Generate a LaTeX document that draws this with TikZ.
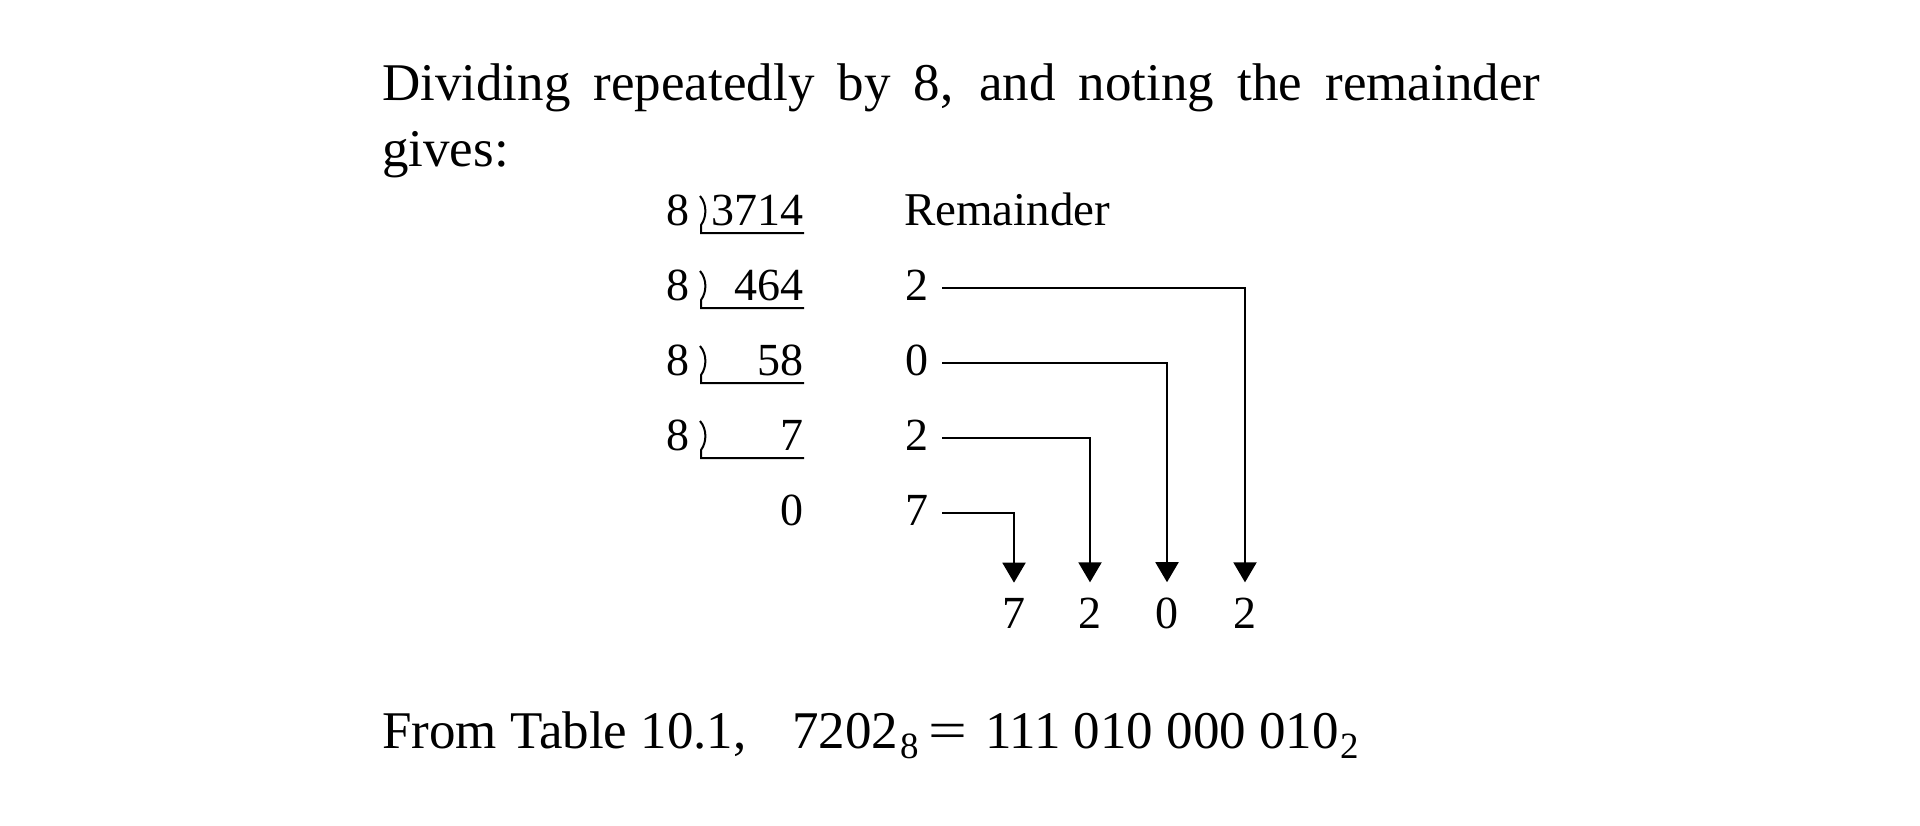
\documentclass[tikz,border=0pt]{standalone}
\usepackage{fontspec}
\setmainfont{Liberation Serif}
\usetikzlibrary{arrows.meta}
\begin{document}
\begin{tikzpicture}[x=1pt,y=-1pt,
  big/.style={inner sep=0pt,anchor=base west,font=\fontsize{53}{60}\selectfont},
  subs/.style={inner sep=0pt,anchor=base west,font=\fontsize{37}{42}\selectfont},
  tabl/.style={inner sep=0pt,anchor=base west,font=\fontsize{46}{52}\selectfont},
  tabr/.style={inner sep=0pt,anchor=base east,font=\fontsize{46}{52}\selectfont},
  tabc/.style={inner sep=0pt,anchor=base,font=\fontsize{46}{52}\selectfont},
  conn/.style={line width=2pt,-{Triangle[width=23pt,length=20pt]}},
  divline/.style={line width=2pt}]
\useasboundingbox[fill=white] (0,0) rectangle (1920,825);
% heading
\node[big] (l1) at (382,100) {\makebox[1158pt][s]{Dividing repeatedly by 8, and noting the remainder}};
\node[big] (l2) at (382,166) {gives:};
% divisors
\node[tabl] (d1) at (666,225) {8};
\node[tabl] (d2) at (666,300) {8};
\node[tabl] (d3) at (666,375) {8};
\node[tabl] (d4) at (666,450) {8};
% dividends
\node[tabr] (q1) at (804,225) {3714};
\node[tabr] (q2) at (804,300) {464};
\node[tabr] (q3) at (804,375) {58};
\node[tabr] (q4) at (804,450) {7};
\node[tabr] (q5) at (804,525) {0};
% division brackets
\foreach \Y in {225,300,375,450}{
  \draw[divline] (700,\Y-29) .. controls (707,\Y-21) and (707,\Y-8) .. (701,\Y)
     -- (701,\Y+8) -- (804,\Y+8);
}
% remainders
\node[tabl,font=\fontsize{47}{52}\selectfont] (rh) at (904,225) {Remainder};
\node[tabl] (r1) at (905,300) {2};
\node[tabl] (r2) at (905,375) {0};
\node[tabl] (r3) at (905,450) {2};
\node[tabl] (r4) at (905,525) {7};
% result digits
\node[tabc] (b1) at (1014,628) {7};
\node[tabc] (b2) at (1090,628) {2};
\node[tabc] (b3) at (1167,628) {0};
\node[tabc] (b4) at (1245,628) {2};
% connectors
\draw[conn] ([shift={(14pt,12pt)}]r1.base east) -| ([yshift=15pt]b4.north);
\draw[conn] ([shift={(14pt,12pt)}]r2.base east) -| ([yshift=15pt]b3.north);
\draw[conn] ([shift={(14pt,12pt)}]r3.base east) -| ([yshift=15pt]b2.north);
\draw[conn] ([shift={(14pt,12pt)}]r4.base east) -| ([yshift=15pt]b1.north);
% final line
\node[big] (f1) at (382,748) {From Table 10.1,};
\node[big] (f2) at (792,748) {7202};
\node[subs] (f3) at (900,758) {8};
\node[big] (f4) at (928,748) {\scalebox{1.3}[1]{=}};
\node[big] (f5) at (985,748) {111 010 000 010};
\node[subs] (f6) at (1340,758) {2};
\end{tikzpicture}
\end{document}
